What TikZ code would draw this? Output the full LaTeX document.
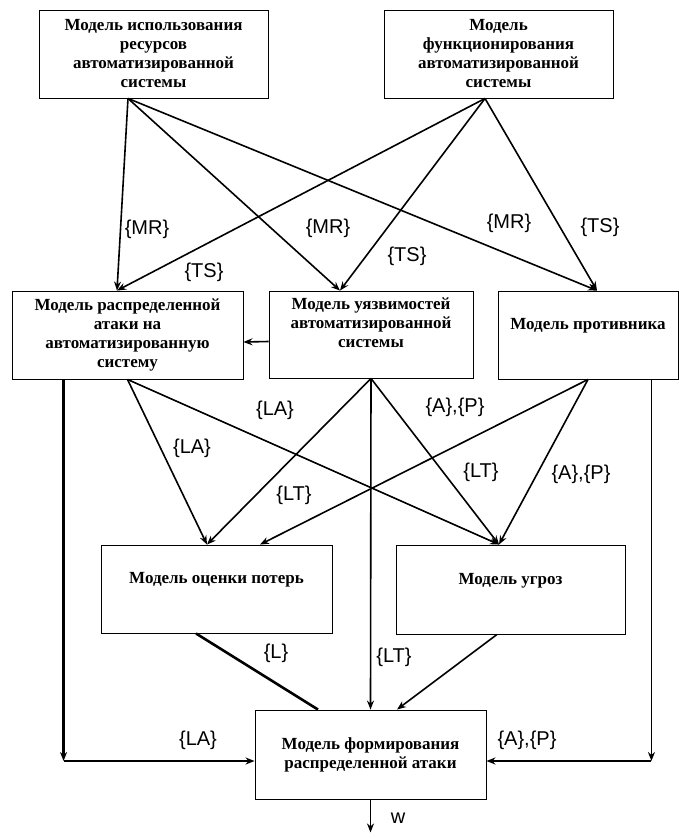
\documentclass[tikz,border=0pt]{standalone}
\usepackage{fontspec}
\setmainfont{Liberation Serif}
\newfontfamily\rotfont{Liberation Sans}
\usetikzlibrary{arrows.meta}

\begin{document}
\begin{tikzpicture}[x=1pt,y=-1pt,>={Stealth[length=9pt,width=7pt]}]
\tikzstyle{bloco}=[draw, rectangle, line width=0.9pt, align=center, inner sep=0pt, font=\bfseries\fontsize{17}{19}\selectfont]
\tikzstyle{rotulo}=[inner sep=1pt, font=\rotfont\fontsize{20}{20}\selectfont]
\tikzstyle{seta}=[->, line width=1.6pt]
\tikzstyle{grossa}=[line width=2.6pt]
\useasboundingbox (0,0) rectangle (679,839);

% models
\node[bloco, minimum width=229pt, minimum height=88pt] (mRes) at (153.5,54)
  {Модель использования\\ресурсов\\автоматизированной\\системы};
\node[bloco, minimum width=229pt, minimum height=88pt] (mFunc) at (498.5,54)
  {Модель\\функционирования\\автоматизированной\\системы};
\node[bloco, minimum width=231pt, minimum height=88pt] (mAtaka) at (127.5,335)
  {Модель распределенной\\атаки на\\автоматизированную\\систему};
\node[bloco, minimum width=204pt, minimum height=87pt, text depth=24pt] (mUyazv) at (371,334.5)
  {Модель уязвимостей\\автоматизированной\\системы};
\node[bloco, minimum width=180pt, minimum height=88pt, text depth=22pt] (mProt) at (588,335)
  {Модель противника};
\node[bloco, minimum width=231pt, minimum height=88pt, text depth=22pt] (mPoteri) at (216.5,589)
  {Модель оценки потерь};
\node[bloco, minimum width=229pt, minimum height=89pt, text depth=22pt] (mUgroz) at (510.5,589.5)
  {Модель угроз};
\node[bloco, minimum width=231pt, minimum height=89pt] (mForm) at (370.5,754.5)
  {Модель формирования\\распределенной атаки};

% ports
\coordinate (resOut) at ([xshift=-25.5pt]mRes.south);
\coordinate (funOut) at ([xshift=-13.5pt]mFunc.south);
\coordinate (atkIn) at ([xshift=-10.5pt]mAtaka.north);
\coordinate (uyzIn) at ([xshift=-31pt]mUyazv.north);
\coordinate (protIn) at ([xshift=9pt]mProt.north);
\coordinate (potIn) at ([xshift=-9.5pt]mPoteri.north);
\coordinate (potIn2) at ([xshift=43.5pt]mPoteri.north);
\coordinate (ugrIn) at ([xshift=-11.5pt]mUgroz.north);
\coordinate (potOut) at ([xshift=-20.5pt]mPoteri.south);
\coordinate (ugrOut) at ([xshift=-13.5pt]mUgroz.south);
\coordinate (formL) at ([xshift=-52.5pt]mForm.north);
\coordinate (formU) at ([xshift=26.5pt]mForm.north);
\coordinate (formE) at ([yshift=-6.5pt]mForm.west);
\coordinate (formD) at ([yshift=-6.5pt]mForm.east);
\coordinate (atkDown) at ([xshift=52pt]mAtaka.south west);
\coordinate (protDown) at ([xshift=-27pt]mProt.south east);
\coordinate (cantoE) at (atkDown |- formE);
\coordinate (cantoD) at (protDown |- formD);
\coordinate (saida) at ([yshift=-33pt]mForm.south);

% upper level
\draw[seta] (resOut) -- (atkIn);
\draw[seta] (resOut) -- (uyzIn);
\draw[seta] (resOut) -- (protIn);
\draw[seta] (funOut) -- (atkIn);
\draw[seta] (funOut) -- (uyzIn);
\draw[seta] (funOut) -- (protIn);
\draw[seta] ([yshift=-7pt]mUyazv.west) -- ([yshift=-7pt]mAtaka.east);

% middle level
\draw[seta] (mAtaka.south) -- (potIn);
\draw[seta] (mAtaka.south) -- (ugrIn);
\draw[seta] (mUyazv.south) -- (potIn);
\draw[seta] (mUyazv.south) -- (ugrIn);
\draw[seta] (mUyazv.south) -- (mForm.north);
\draw[seta] (mProt.south) -- (potIn2);
\draw[seta] (mProt.south) -- (ugrIn);

% lower level
\draw[seta, grossa] (atkDown) -- (cantoE);
\draw[seta] (cantoE) -- (formE);
\draw[seta] (protDown) -- (cantoD);
\draw[seta] (cantoD) -- (formD);
\draw[grossa] (potOut) -- (formL);
\draw[seta] (ugrOut) -- (formU);
\draw[seta] (mForm.south) -- (saida);

% labels
\node[rotulo] (lMR1) at (147,229) {\{MR\}};
\node[rotulo] (lMR2) at (328,228) {\{MR\}};
\node[rotulo] (lMR3) at (509,223) {\{MR\}};
\node[rotulo] (lTS1) at (204,272) {\{TS\}};
\node[rotulo] (lTS2) at (407,256) {\{TS\}};
\node[rotulo] (lTS3) at (600,227) {\{TS\}};
\node[rotulo] (lLA1) at (275,410) {\{LA\}};
\node[rotulo] (lLA2) at (192,448) {\{LA\}};
\node[rotulo] (lLT1) at (294,495) {\{LT\}};
\node[rotulo] (lAP1) at (455,407) {\{A\},\{P\}};
\node[rotulo] (lLT2) at (481,472) {\{LT\}};
\node[rotulo] (lAP2) at (581,474) {\{A\},\{P\}};
\node[rotulo] (lL) at (276,653) {\{L\}};
\node[rotulo] (lLT3) at (394,657) {\{LT\}};
\node[rotulo] (lLA3) at (198,740) {\{LA\}};
\node[rotulo] (lAP3) at (527,740) {\{A\},\{P\}};
\node[rotulo] (lW) at (398,818) {w};
\end{tikzpicture}
\end{document}
